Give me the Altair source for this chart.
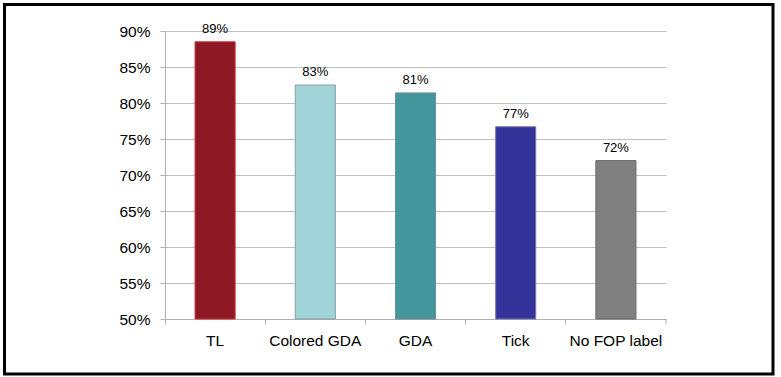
import altair as alt
import pandas as pd

categories = ["TL", "Colored GDA", "GDA", "Tick", "No FOP label"]
values = [0.885, 0.825, 0.814, 0.767, 0.720]
labels = ["89%", "83%", "81%", "77%", "72%"]
fills = ["#8E1824", "#A0D4D8", "#43969C", "#333399", "#808080"]
strokes = ["#C8303A", "#8A9EA0", "#6E8E90", "#7777AA", "#6A6A6A"]
y_ticks = [0.5, 0.55, 0.6, 0.65, 0.7, 0.75, 0.8, 0.85, 0.9]

df = pd.DataFrame({"cat": categories, "val": values, "lab": labels,
                   "fill": fills, "stroke": strokes})

W, H = 501, 288
FONT = "Liberation Sans"

x = alt.X("cat:N", sort=categories, title=None,
          scale=alt.Scale(paddingInner=0, paddingOuter=0),
          axis=alt.Axis(bandPosition=0, labelAngle=0, labelFontSize=15.5,
                        labelFont=FONT, labelColor="#000000", labelPadding=9,
                        tickSize=5, tickColor="#B0B0B0", domainColor="#B0B0B0",
                        grid=False, labelBaseline="top", labelOverlap=False))
y = alt.Y("val:Q", title=None,
          scale=alt.Scale(domain=[0.5, 0.9], nice=False, zero=False),
          axis=alt.Axis(format=".0%", values=y_ticks, tickCount=9,
                        labelOverlap=False,
                        labelFontSize=15.5, labelFont=FONT, labelColor="#000000",
                        labelPadding=10, tickSize=5, tickColor="#B0B0B0",
                        domainColor="#B0B0B0", gridColor="#C0C0C0"))

base = alt.Chart(df)

bars = base.mark_bar(width=alt.RelativeBandSize(0.4), strokeWidth=1).encode(
    x=x, y=y,
    y2=alt.datum(0.5),
    fill=alt.Fill("fill:N", scale=None),
    stroke=alt.Stroke("stroke:N", scale=None),
)

text = base.mark_text(font=FONT, fontSize=13, dy=-9, baseline="alphabetic",
                      color="#000000").encode(
    x=alt.X("cat:N", sort=categories), y="val:Q", text="lab:N")

end_tick = alt.Chart(pd.DataFrame({"a": [0]})).mark_rule(
    color="#B0B0B0").encode(x=alt.value(W), y=alt.value(H), y2=alt.value(H + 5))

border = alt.Chart(pd.DataFrame({"a": [0]})).mark_rect(
    fill=None, stroke="#000000", strokeWidth=3, clip=False).encode(
    x=alt.value(-160.5), x2=alt.value(608), y=alt.value(-26.5), y2=alt.value(343))

chart = alt.layer(bars, text, end_tick, border).properties(
    width=W, height=H,
    autosize=alt.AutoSizeParams(type="none"),
    padding={"left": 165, "top": 31, "right": 115, "bottom": 58},
    background="#FFFFFF",
).configure_view(stroke=None)

chart.save("out.html", embed_options={"renderer": "svg", "actions": False})
